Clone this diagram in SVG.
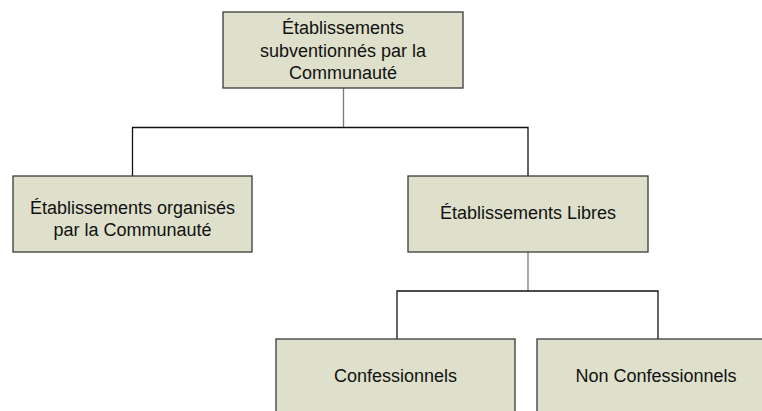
<svg xmlns="http://www.w3.org/2000/svg" width="762" height="411" viewBox="0 0 762 411">
<style>
.box{fill:#dee0cb;stroke:#3a3a3a;stroke-width:1.3}
.t{font-family:"Liberation Sans",Arial,sans-serif;font-size:18px;fill:#111;text-anchor:middle}
.c{fill:none;stroke-width:1.3}
.g{stroke:#7a7a7a}
.k{stroke:#111}
</style>
<rect width="762" height="411" fill="#fff"/>
<g id="connectors">
<path class="c g" d="M343.5 88V127.5"/>
<path class="c k" d="M132.5 176V127.5H528V176"/>
<path class="c g" d="M528 252V291"/>
<path class="c k" d="M397 339V291H658V339"/>
</g>
<g id="n1">
<rect class="box" x="223" y="12" width="240" height="76"/>
<text class="t" x="343" y="34">Établissements</text>
<text class="t" x="343" y="56.5">subventionnés par la</text>
<text class="t" x="343" y="78.5">Communauté</text>
</g>
<g id="n2">
<rect class="box" x="13" y="176" width="239" height="76"/>
<text class="t" x="132.5" y="214">Établissements organisés</text>
<text class="t" x="132.5" y="235.5">par la Communauté</text>
</g>
<g id="n3">
<rect class="box" x="408" y="176" width="240" height="76"/>
<text class="t" x="528" y="219">Établissements Libres</text>
</g>
<g id="n4">
<rect class="box" x="276" y="339" width="239" height="76"/>
<text class="t" x="395.5" y="382">Confessionnels</text>
</g>
<g id="n5">
<rect class="box" x="537" y="339" width="240" height="76"/>
<text class="t" x="656" y="382">Non Confessionnels</text>
</g>
</svg>
